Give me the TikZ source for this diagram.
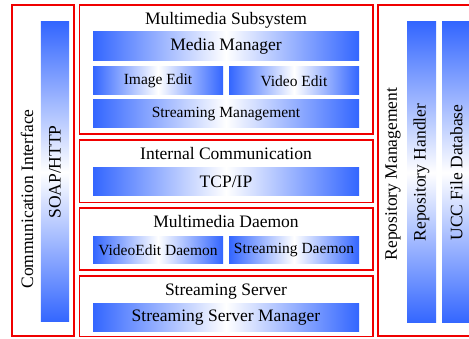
\documentclass[tikz,border=0pt]{standalone}
\usepackage{fontspec}
\setmainfont{Liberation Serif}
\definecolor{barblue}{RGB}{51,102,255}
\definecolor{frame}{RGB}{240,0,0}
\tikzset{
  layer/.style={draw=frame, line width=1.6pt, fill=white},
  hbar/.style={left color=barblue, right color=barblue, middle color=white,
    inner sep=0pt, minimum width=266pt, minimum height=28pt,
    font=\fontsize{17.5}{19}\selectfont},
  halfbar/.style={hbar, minimum width=130pt, font=\fontsize{15.5}{17}\selectfont},
  vbar/.style={top color=barblue, bottom color=barblue, middle color=white,
    inner sep=0pt, minimum width=300pt, minimum height=29pt, rotate=90,
    font=\fontsize{17.5}{19}\selectfont},
  heading/.style={anchor=base, inner sep=0pt, font=\fontsize{17.5}{19}\selectfont},
  sidelabel/.style={rotate=90, inner sep=0pt, font=\fontsize{17.5}{19}\selectfont}
}
\begin{document}
\begin{tikzpicture}[x=1pt, y=-1pt]
\useasboundingbox (0,0) rectangle (469,339);
\clip (0,0) rectangle (469,339);

% outer layers
\draw[layer] (12,5) rectangle (74,336);
\draw[layer] (79.5,5) rectangle (373,134);
\draw[layer] (79.5,140) rectangle (373,202.5);
\draw[layer] (79.5,208) rectangle (373,270);
\draw[layer] (79.5,276) rectangle (373,336.5);
\draw[layer] (378,5) rectangle (480,336);

% communication interface
\node[sidelabel] (cilabel) at (27,199) {Communication Interface};
\node[vbar, minimum width=300pt, minimum height=28.3pt] (soap) at (55,172) {SOAP/HTTP};

% multimedia subsystem
\node[heading] (mstitle) at (226,25) {Multimedia Subsystem};
\node[hbar, minimum height=29pt] (media) at (226,46.5) {Media Manager};
\node[halfbar] (image) at (158,81) {Image Edit};
\node[halfbar] (video) at (294,81) {Video Edit};
\node[hbar, font=\fontsize{15.5}{17}\selectfont] (stream) at (226,114) {Streaming Management};

% internal communication
\node[heading] (ictitle) at (226,160) {Internal Communication};
\node[hbar] (tcp) at (226,182) {TCP/IP};

% multimedia daemon
\node[heading] (mdtitle) at (226,228) {Multimedia Daemon};
\node[halfbar, minimum height=27pt] (vedaemon) at (158,250.5) {VideoEdit Daemon};
\node[halfbar, minimum height=27pt] (sdaemon) at (294,250.5) {Streaming Daemon};

% streaming server
\node[heading] (sstitle) at (226,296) {Streaming Server};
\node[hbar] (ssm) at (226,318) {Streaming Server Manager};

% repository management
\node[sidelabel] (rmlabel) at (393,174) {Repository Management};
\node[vbar, minimum width=301pt] (handler) at (421.5,172.5) {Repository Handler};
\node[vbar, minimum width=301pt] (ucc) at (456.5,172.5) {UCC File Database};
\end{tikzpicture}
\end{document}
